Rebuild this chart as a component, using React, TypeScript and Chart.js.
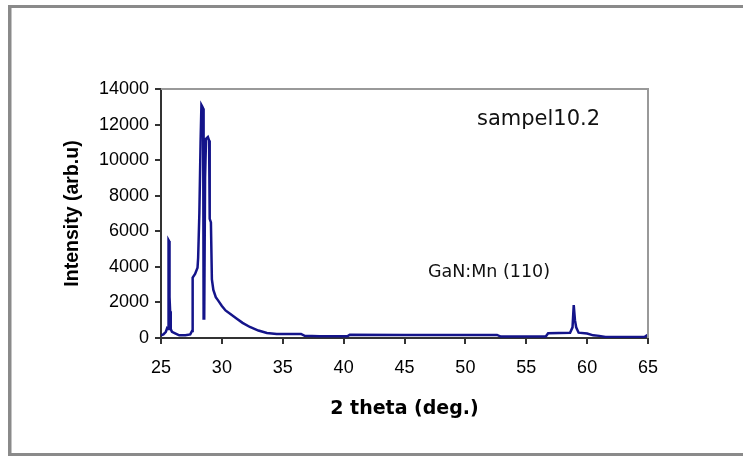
import React, { useEffect, useRef } from "react";
import { Chart, registerables } from "chart.js";

Chart.register(...registerables);

// 2 theta (deg.) and intensity (arb.u)
const TWO_THETA: number[] = [
  25.0, 25.2, 25.4, 25.5, 25.58, 25.62, 25.66, 25.7, 25.75, 25.8, 25.9, 26.2, 26.5, 27.0, 27.4, 27.55,
  27.6, 27.8, 28.0, 28.05, 28.15, 28.25, 28.32, 28.4, 28.46, 28.5, 28.55, 28.62, 28.7, 28.85, 28.95,
  29.0, 29.1, 29.18, 29.3, 29.5, 29.7, 30.0, 30.3, 30.7, 31.2, 31.7, 32.3, 33.0, 33.7, 34.5, 35.5,
  36.5, 36.8, 38.0, 39.5, 40.3, 40.5, 45.0, 50.0, 52.6, 52.9, 56.6, 56.8, 58.6, 58.8, 58.9, 59.0,
  59.1, 59.3, 60.0, 60.5, 61.0, 61.5, 64.7, 64.9, 65.0,
];
const INTENSITY: number[] = [
  150, 200, 350, 550, 500, 5500, 5450, 2300, 1500, 500, 350, 250, 150, 150, 200, 400,
  3400, 3600, 3950, 4500, 7000, 11000, 13100, 13000, 12900, 1100, 1100, 9000, 11200, 11300, 11100,
  6700, 6500, 3300, 2700, 2300, 2100, 1800, 1550, 1350, 1100, 850, 620, 420, 280, 230, 230,
  230, 120, 100, 100, 100, 180, 170, 170, 170, 80, 80, 270, 300, 600, 1850, 1000,
  600, 300, 250, 150, 120, 60, 60, 150, 120,
];

const X_MIN = 25;
const X_MAX = 65;
const X_STEP = 5;
const Y_MIN = 0;
const Y_MAX = 14000;
const Y_STEP = 2000;

const X_TITLE = "2 theta (deg.)";
const Y_TITLE = "Intensity (arb.u)";
const SAMPLE_LABEL = "sampel10.2";
const PEAK_LABEL = "GaN:Mn (110)";

const framePlugin = {
  id: "frameAndNotes",
  afterDraw(chart: any) {
    const ctx = chart.ctx as CanvasRenderingContext2D;
    const { left, right, top, bottom } = chart.chartArea;
    const xs = chart.scales.x;
    const ys = chart.scales.y;
    ctx.save();
    // outer frame
    ctx.fillStyle = "#8a8a8a";
    ctx.fillRect(8, 5, 735, 3);
    ctx.fillRect(8, 5, 3, 451);
    ctx.fillRect(8, 453, 735, 3);
    ctx.fillStyle = "#c4c4c4";
    ctx.fillRect(11, 8, 1, 445);
    // plot top and right border
    ctx.strokeStyle = "#999999";
    ctx.lineWidth = 2;
    ctx.beginPath();
    ctx.moveTo(left, top);
    ctx.lineTo(right, top);
    ctx.lineTo(right, bottom);
    ctx.stroke();
    // notes
    ctx.fillStyle = "#111";
    ctx.textBaseline = "alphabetic";
    ctx.textAlign = "left";
    ctx.font = "21px 'DejaVu Sans'";
    ctx.fillText(SAMPLE_LABEL, xs.getPixelForValue(50.95), ys.getPixelForValue(11950));
    ctx.font = "17.5px 'DejaVu Sans'";
    ctx.fillText(PEAK_LABEL, xs.getPixelForValue(46.93), ys.getPixelForValue(3420));
    ctx.restore();
  },
};

export default function App() {
  const ref = useRef<HTMLCanvasElement | null>(null);
  useEffect(() => {
    if (!ref.current) return;
    const chart = new Chart(ref.current, {
      type: "line",
      data: {
        datasets: [
          {
            data: TWO_THETA.map((x, i) => ({ x, y: INTENSITY[i] })),
            borderColor: "#14148a",
            borderWidth: 2.5,
            pointRadius: 0,
            tension: 0,
            fill: false,
          },
        ],
      },
      options: {
        animation: false,
        responsive: false,
        maintainAspectRatio: false,
        layout: { padding: { left: 61, right: 95, top: 89, bottom: 36 } },
        plugins: { legend: { display: false }, tooltip: { enabled: false } },
        scales: {
          x: {
            type: "linear",
            min: X_MIN,
            max: X_MAX,
            afterFit: (s: any) => {
              s.height = 82;
            },
            ticks: {
              stepSize: X_STEP,
              color: "#000",
              padding: 13,
              maxRotation: 0,
              callback: (v: any) => String(v),
              font: { family: "'Liberation Sans', Arial", size: 18 },
            },
            grid: { drawOnChartArea: false, color: "#333", tickLength: 6, lineWidth: 2 },
            border: { color: "#333", width: 2 },
            title: {
              display: true,
              text: X_TITLE,
              color: "#000",
              padding: 0,
              font: { family: "'DejaVu Sans'", size: 19, weight: "bold" },
            },
          },
          y: {
            type: "linear",
            min: Y_MIN,
            max: Y_MAX,
            afterFit: (s: any) => {
              s.width = 100;
            },
            ticks: {
              stepSize: Y_STEP,
              color: "#000",
              padding: 6,
              callback: (v: any) => String(v),
              font: { family: "'Liberation Sans', Arial", size: 18 },
            },
            grid: { drawOnChartArea: false, color: "#333", tickLength: 6, lineWidth: 2 },
            border: { color: "#333", width: 2 },
            title: {
              display: true,
              text: Y_TITLE,
              color: "#000",
              padding: 0,
              font: { family: "'Liberation Sans', Arial", size: 19.5, weight: "bold" },
            },
          },
        },
      },
      plugins: [framePlugin],
    });
    return () => chart.destroy();
  }, []);
  return (
    <div style={{ position: "absolute", left: 0, top: 0, width: 743, height: 456, background: "#fff" }}>
      <canvas ref={ref} width={743} height={456} style={{ display: "block" }} />
    </div>
  );
}
